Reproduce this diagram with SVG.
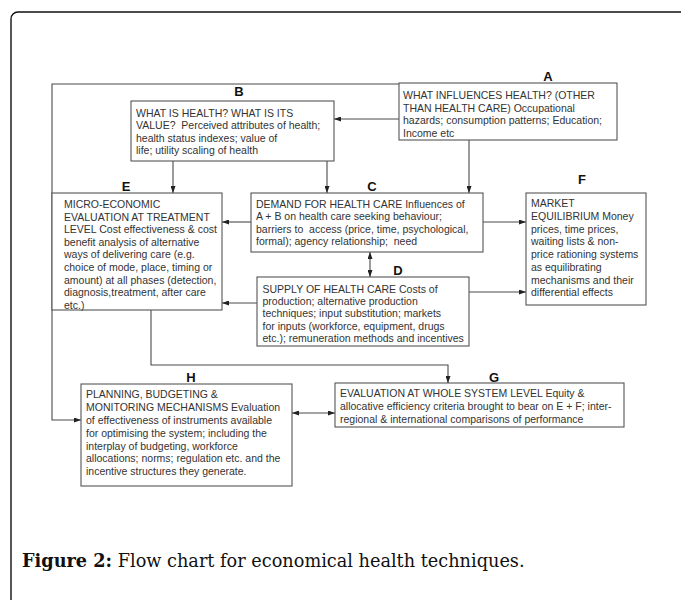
<svg xmlns="http://www.w3.org/2000/svg" width="681" height="600" viewBox="0 0 681 600">
<style>
.bg{fill:#fff}
.outer{fill:none;stroke:#111;stroke-width:1.4}
.box{fill:#fff;stroke:#555;stroke-width:1.1}
.t{font-family:"Liberation Sans",Arial,sans-serif;font-size:10.5px;fill:#333;white-space:pre}
.lbl{font-family:"Liberation Sans",Arial,sans-serif;font-size:13px;font-weight:bold;fill:#111;text-anchor:middle}
.cn{fill:none;stroke:#4a4a4a;stroke-width:1.1}
.cap{font-family:"DejaVu Serif",serif;font-size:17.7px;fill:#111}
</style>
<defs>
<marker id="ah" markerWidth="7" markerHeight="5" refX="7" refY="2.5" orient="auto-start-reverse" markerUnits="userSpaceOnUse">
<path d="M0,0 L7,2.5 L0,5 z" fill="#222"/>
</marker>
</defs>
<rect class="bg" x="0" y="0" width="681" height="600"/>
<rect class="outer" x="11" y="12" width="700" height="620" rx="7"/>

<g id="connectors">
<polyline class="cn" points="399,84 52,84 52,420 81,420" marker-end="url(#ah)"/>
<line class="cn" x1="399" y1="119" x2="334" y2="119" marker-end="url(#ah)"/>
<line class="cn" x1="469" y1="140" x2="469" y2="193" marker-end="url(#ah)"/>
<line class="cn" x1="173" y1="161" x2="173" y2="193" marker-end="url(#ah)"/>
<line class="cn" x1="327" y1="161" x2="327" y2="193" marker-end="url(#ah)"/>
<line class="cn" x1="251" y1="222" x2="222" y2="222" marker-end="url(#ah)"/>
<line class="cn" x1="483" y1="222" x2="526" y2="222" marker-end="url(#ah)"/>
<line class="cn" x1="370" y1="252" x2="370" y2="277" marker-start="url(#ah)" marker-end="url(#ah)"/>
<line class="cn" x1="257" y1="303" x2="222" y2="303" marker-end="url(#ah)"/>
<line class="cn" x1="469" y1="292" x2="526" y2="292" marker-end="url(#ah)"/>
<polyline class="cn" points="151,310 151,365 448,365 448,383" marker-end="url(#ah)"/>
<line class="cn" x1="292" y1="413" x2="335" y2="413" marker-start="url(#ah)" marker-end="url(#ah)"/>
</g>

<g id="node-A">
<rect class="box" x="399" y="83" width="218" height="57"/>
<text class="lbl" x="548" y="81">A</text>
<text class="t" x="403" y="99">WHAT INFLUENCES HEALTH? (OTHER</text>
<text class="t" x="403" y="111.5">THAN HEALTH CARE) Occupational</text>
<text class="t" x="403" y="124">hazards; consumption patterns; Education;</text>
<text class="t" x="403" y="136.5">Income etc</text>
</g>

<g id="node-B">
<rect class="box" x="131" y="101" width="203" height="60"/>
<text class="lbl" x="239" y="96">B</text>
<text class="t" x="136" y="116.7">WHAT IS HEALTH? WHAT IS ITS</text>
<text class="t" x="136" y="129.2" xml:space="preserve">VALUE?  Perceived attributes of health;</text>
<text class="t" x="136" y="141.7">health status indexes; value of</text>
<text class="t" x="136" y="154.2">life; utility scaling of health</text>
</g>

<g id="node-C">
<rect class="box" x="251" y="193" width="232" height="59"/>
<text class="lbl" x="372" y="191">C</text>
<text class="t" x="256" y="208">DEMAND FOR HEALTH CARE Influences of</text>
<text class="t" x="256" y="220.4">A + B on health care seeking behaviour;</text>
<text class="t" x="256" y="232.8" xml:space="preserve">barriers to  access (price, time, psychological,</text>
<text class="t" x="256" y="245.2" xml:space="preserve">formal); agency relationship;  need</text>
</g>

<g id="node-E">
<rect class="box" x="52" y="193" width="170" height="117"/>
<text class="lbl" x="126" y="191">E</text>
<text class="t" x="64" y="208">MICRO-ECONOMIC</text>
<text class="t" x="64" y="220.6">EVALUATION AT TREATMENT</text>
<text class="t" x="64" y="233.2">LEVEL Cost effectiveness &amp; cost</text>
<text class="t" x="64" y="245.8">benefit analysis of alternative</text>
<text class="t" x="64" y="258.4">ways of delivering care (e.g.</text>
<text class="t" x="64" y="271">choice of mode, place, timing or</text>
<text class="t" x="64" y="283.6">amount) at all phases (detection,</text>
<text class="t" x="64" y="296.2">diagnosis,treatment, after care</text>
<text class="t" x="64" y="308.8">etc.)</text>
</g>

<g id="node-F">
<rect class="box" x="526" y="193" width="120" height="112"/>
<text class="lbl" x="582" y="184">F</text>
<text class="t" x="531" y="207.3">MARKET</text>
<text class="t" x="531" y="220">EQUILIBRIUM Money</text>
<text class="t" x="531" y="232.7">prices, time prices,</text>
<text class="t" x="531" y="245.4">waiting lists &amp; non-</text>
<text class="t" x="531" y="258.1">price rationing systems</text>
<text class="t" x="531" y="270.8">as equilibrating</text>
<text class="t" x="531" y="283.5">mechanisms and their</text>
<text class="t" x="531" y="296.2">differential effects</text>
</g>

<g id="node-D">
<rect class="box" x="257" y="277" width="212" height="69"/>
<text class="lbl" x="398" y="275">D</text>
<text class="t" x="262.5" y="292.5">SUPPLY OF HEALTH CARE Costs of</text>
<text class="t" x="262.5" y="304.9">production; alternative production</text>
<text class="t" x="262.5" y="317.3">techniques; input substitution; markets</text>
<text class="t" x="262.5" y="329.7">for inputs (workforce, equipment, drugs</text>
<text class="t" x="262.5" y="342.1">etc.); remuneration methods and incentives</text>
</g>

<g id="node-G">
<rect class="box" x="335" y="383" width="289" height="44"/>
<text class="lbl" x="494" y="382">G</text>
<text class="t" x="340" y="397.3">EVALUATION AT WHOLE SYSTEM LEVEL Equity &amp;</text>
<text class="t" x="340" y="410">allocative efficiency criteria brought to bear on E + F; inter-</text>
<text class="t" x="340" y="422.7">regional &amp; international comparisons of performance</text>
</g>

<g id="node-H">
<rect class="box" x="81" y="384" width="211" height="102"/>
<text class="lbl" x="191" y="382">H</text>
<text class="t" x="86" y="398.3">PLANNING, BUDGETING &amp;</text>
<text class="t" x="86" y="411.1">MONITORING MECHANISMS Evaluation</text>
<text class="t" x="86" y="423.9">of effectiveness of instruments available</text>
<text class="t" x="86" y="436.7">for optimising the system; including the</text>
<text class="t" x="86" y="449.5">interplay of budgeting, workforce</text>
<text class="t" x="86" y="462.3">allocations; norms; regulation etc. and the</text>
<text class="t" x="86" y="475.1">incentive structures they generate.</text>
</g>

<text class="cap" x="22" y="567"><tspan font-weight="bold">Figure 2:</tspan> Flow chart for economical health techniques.</text>
</svg>
